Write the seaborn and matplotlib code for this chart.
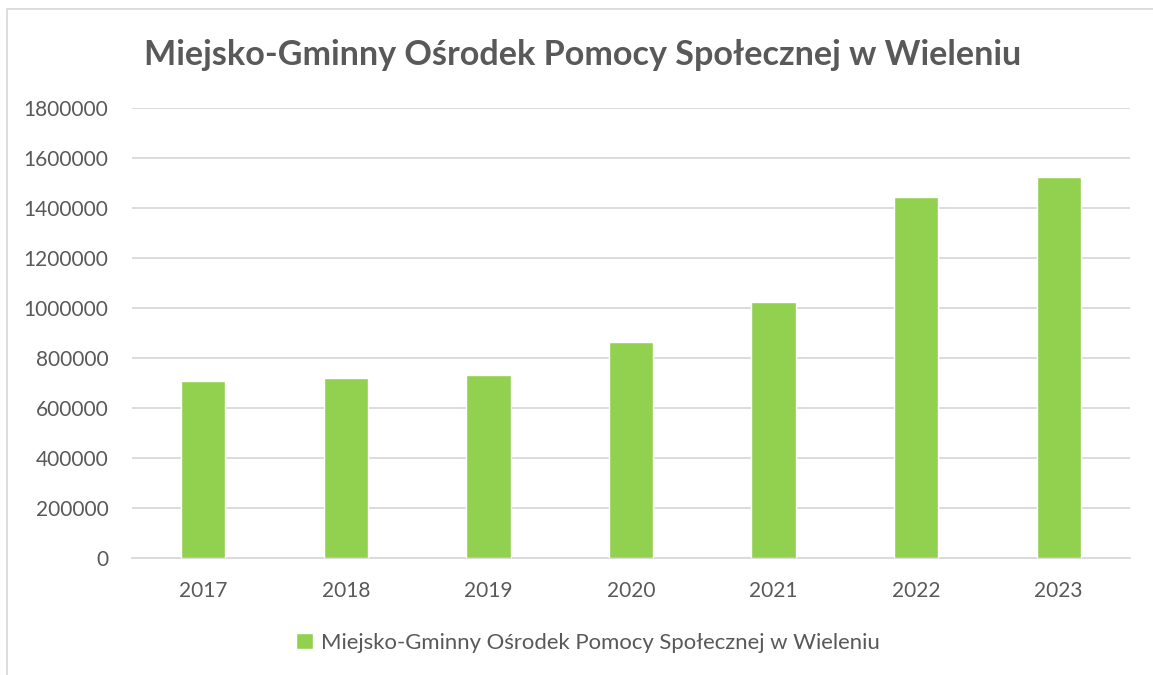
import matplotlib
matplotlib.use('Agg')
import matplotlib.pyplot as plt
from matplotlib.patches import Rectangle
import pandas as pd
import seaborn as sns

# Data
years = ['2017', '2018', '2019', '2020', '2021', '2022', '2023']
amounts = [709000, 721000, 732000, 865000, 1024000, 1445000, 1526000]
series_name = 'Miejsko-Gminny Ośrodek Pomocy Społecznej w Wieleniu'
y_ticks = [0, 200000, 400000, 600000, 800000, 1000000, 1200000, 1400000, 1600000, 1800000]

bar_color = '#92d050'
text_color = '#595959'
grid_color = '#d9d9d9'

sns.set_theme(style='white')
plt.rcParams['font.family'] = ['Lato', 'DejaVu Sans']

df = pd.DataFrame({'year': years, 'amount': amounts})

fig = plt.figure(figsize=(11.53, 6.75), dpi=100)
ax = fig.add_axes([132 / 1153, 1 - 558.3 / 675, (1130 - 132) / 1153, (558.3 - 108) / 675])

sns.barplot(data=df, x='year', y='amount', color=bar_color, saturation=1,
            width=0.31, ax=ax, label=series_name, zorder=3)

ax.set_ylim(0, 1800000)
ax.set_xlim(-0.5, len(years) - 0.5)
ax.set_yticks(y_ticks)
ax.set_yticklabels([str(v) for v in y_ticks])
ax.yaxis.grid(True, color=grid_color, lw=1.3, zorder=0)
ax.set_axisbelow(True)
for s in ['top', 'right', 'left']:
    ax.spines[s].set_visible(False)
ax.spines['bottom'].set_color(grid_color)
ax.spines['bottom'].set_linewidth(1.3)
ax.set_xlabel('')
ax.set_ylabel('')
ax.tick_params(axis='y', length=0, pad=17, labelsize=15, labelcolor=text_color)
ax.tick_params(axis='x', length=0, pad=16, labelsize=15, labelcolor=text_color)
if ax.get_legend() is not None:
    ax.get_legend().remove()

fig.text(582.5 / 1153, 1 - 55 / 675, series_name, ha='center', va='center',
         fontsize=24.6, fontweight='bold', color=text_color)

handles, labels = ax.get_legend_handles_labels()
fig.legend(handles[:1], labels[:1], loc='center', bbox_to_anchor=(588 / 1153, 1 - 643 / 675),
           frameon=False, fontsize=15.9, labelcolor=text_color, handlelength=0.75,
           handleheight=0.75, handletextpad=0.35)

# light chart border (Excel chart area)
fig.patches.append(Rectangle((7 / 1153, -0.1), 1.2, 1.1 - 9 / 675, fill=False,
                             edgecolor=grid_color, lw=1.3, transform=fig.transFigure))

fig.savefig('out.png', dpi=100)
plt.close(fig)
